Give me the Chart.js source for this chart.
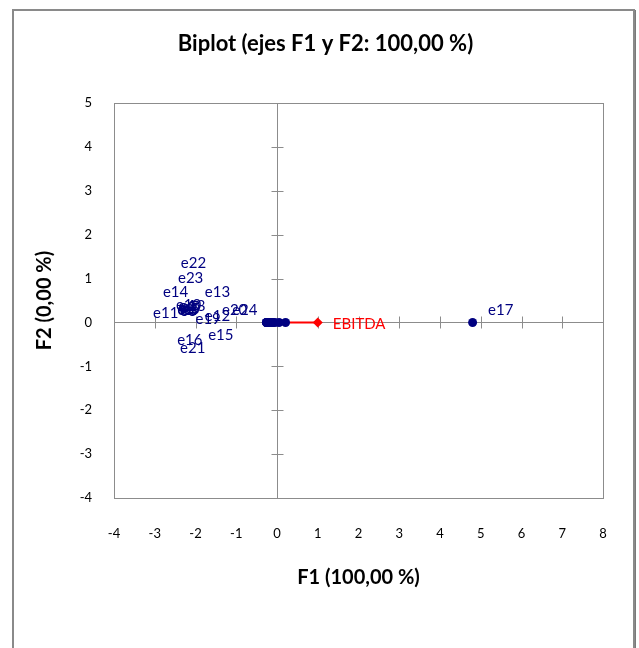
<!DOCTYPE html>
<html><head><meta charset="utf-8">
<script src="https://cdn.jsdelivr.net/npm/chart.js@4/dist/chart.umd.min.js"></script>
<style>html,body{margin:0;padding:0;background:#fff;overflow:hidden}</style>
</head><body>
<canvas id="c" width="639" height="648"></canvas>
<script>
// ---- data ----
const observations = ['e1','e2','e3','e4','e5','e6','e7','e8','e9','e10','e11','e12','e13','e14','e15','e16','e17','e18','e19','e20','e21','e22','e23','e24'];
const f1Scores = [-0.22,-0.24,-0.20,-0.25,-0.18,-0.23,-0.21,-0.26,-0.19,-0.24,-0.26,-0.17,-0.15,-0.25,-0.12,-0.22,4.80,-0.24,-0.20,-0.10,-0.22,0.05,0.21,-0.05];
const f2Scores = [0,0,0,0,0,0,0,0,0,0,0,0,0,0,0,0,0,0,0,0,0,0,0,0];
const obsLabelF1 = [-2.45,-2.40,-2.35,-2.42,-2.30,-2.38,-2.33,-2.44,-2.28,-2.48,-3.04,-1.77,-1.77,-2.80,-1.69,-2.45,5.18,-2.38,-2.00,-1.35,-2.38,-2.36,-2.43,-1.10];
const obsLabelF2 = [0.30,0.33,0.28,0.36,0.31,0.26,0.35,0.27,0.28,0.40,0.22,0.15,0.69,0.69,-0.28,-0.40,0.28,0.38,0.08,0.28,-0.58,1.36,1.01,0.28];
const variableNames = ['EBITDA'];
const variableF1 = [1.0];
const variableF2 = [0.0];
const varLabelF1 = [1.37];
const varLabelF2 = [-0.05];
const xTicks = [-4,-3,-2,-1,0,1,2,3,4,5,6,7,8];
const yTicks = [-4,-3,-2,-1,0,1,2,3,4,5];

const FONT = 'Lato, "Open Sans", sans-serif';
const NAVY = '#000080';
const GRAYLINE = '#8c8c8c';

const decor = {
  id: 'decor',
  beforeDraw(chart) {
    const ctx = chart.ctx;
    ctx.save();
    ctx.fillStyle = '#fff';
    ctx.fillRect(0, 0, chart.width, chart.height);
    ctx.strokeStyle = '#8a8a8a';
    ctx.lineWidth = 2;
    ctx.strokeRect(13, 10, 621, 660);
    ctx.strokeStyle = '#7a7a7a';
    ctx.lineWidth = 1;
    ctx.beginPath(); ctx.moveTo(635.5, 10); ctx.lineTo(635.5, 648); ctx.stroke();
    ctx.restore();
  },
  beforeDatasetsDraw(chart) {
    const {ctx, chartArea: a, scales: {x, y}} = chart;
    ctx.save();
    ctx.strokeStyle = GRAYLINE;
    ctx.lineWidth = 1;
    ctx.strokeRect(Math.round(a.left) + 0.5, Math.round(a.top) + 0.5, Math.round(a.right - a.left), Math.round(a.bottom - a.top));
    const x0 = Math.round(x.getPixelForValue(0)) + 0.5;
    const y0 = Math.round(y.getPixelForValue(0)) + 0.5;
    ctx.beginPath();
    ctx.moveTo(x0, a.top); ctx.lineTo(x0, a.bottom);
    ctx.moveTo(a.left, y0); ctx.lineTo(a.right, y0);
    xTicks.forEach(v => {
      if (v === 0 || v === xTicks[0] || v === xTicks[xTicks.length-1]) return;
      const px = Math.round(x.getPixelForValue(v)) + 0.5;
      ctx.moveTo(px, y0 - 6); ctx.lineTo(px, y0 + 6);
    });
    yTicks.forEach(v => {
      if (v === 0 || v === yTicks[0] || v === yTicks[yTicks.length-1]) return;
      const py = Math.round(y.getPixelForValue(v)) + 0.5;
      ctx.moveTo(x0 - 6, py); ctx.lineTo(x0 + 6, py);
    });
    ctx.stroke();
    ctx.restore();
  },
  afterDatasetsDraw(chart) {
    const {ctx, scales: {x, y}} = chart;
    ctx.save();
    ctx.font = '15px ' + FONT;
    ctx.textBaseline = 'middle';
    ctx.textAlign = 'left';
    ctx.fillStyle = NAVY;
    observations.forEach((name, i) => {
      ctx.fillText(name, x.getPixelForValue(obsLabelF1[i]), y.getPixelForValue(obsLabelF2[i]));
    });
    ctx.fillStyle = '#ff0000';
    variableNames.forEach((name, i) => {
      ctx.fillText(name, x.getPixelForValue(varLabelF1[i]), y.getPixelForValue(varLabelF2[i]));
    });
    ctx.restore();
  }
};

new Chart(document.getElementById('c'), {
  type: 'scatter',
  data: {
    datasets: [
      {
        label: 'Observaciones',
        data: observations.map((n, i) => ({x: f1Scores[i], y: f2Scores[i]})),
        backgroundColor: NAVY,
        borderColor: NAVY,
        pointRadius: 4.5,
        borderWidth: 0,
        order: 0
      },
      {
        label: 'Variables',
        type: 'line',
        data: [{x: 0, y: 0}].concat(variableNames.map((n, i) => ({x: variableF1[i], y: variableF2[i]}))),
        borderColor: '#ff0000',
        backgroundColor: '#ff0000',
        borderWidth: 2,
        pointStyle: 'rectRot',
        pointRadius: [0, 5],
        pointBorderWidth: 0,
        showLine: true,
        fill: false,
        order: 1
      }
    ]
  },
  options: {
    responsive: false,
    animation: false,
    devicePixelRatio: 1,
    layout: {padding: {left: 12, top: 0, right: 0, bottom: 0}},
    plugins: {
      legend: {display: false},
      tooltip: {enabled: false},
      title: {
        display: true,
        text: 'Biplot (ejes F1 y F2: 100,00 %)',
        color: '#000',
        font: {family: FONT, size: 22, weight: 'bold'},
        padding: {top: 31, bottom: 45.6}
      }
    },
    scales: {
      x: {
        type: 'linear',
        min: -4, max: 8,
        afterFit(s) { s.height = 150; },
        grid: {display: false, drawTicks: false},
        border: {display: false},
        ticks: {stepSize: 1, color: '#000', padding: 28, font: {family: FONT, size: 13}, maxRotation: 0, autoSkip: false},
        title: {display: true, text: 'F1 (100,00 %)', color: '#000', font: {family: FONT, size: 20, weight: 'bold'}, padding: {top: 0, bottom: 58}}
      },
      y: {
        type: 'linear',
        min: -4, max: 5,
        afterFit(s) { s.width = 102; },
        grid: {display: false, drawTicks: false},
        border: {display: false},
        ticks: {stepSize: 1, color: '#000', padding: 22, font: {family: FONT, size: 13}, autoSkip: false},
        title: {display: true, text: 'F2 (0,00 %)', color: '#000', font: {family: FONT, size: 20, weight: 'bold'}, padding: {top: 21, bottom: 0}}
      },
      yRight: {
        type: 'linear',
        position: 'right',
        min: -4, max: 5,
        afterFit(s) { s.width = 36; },
        grid: {display: false, drawTicks: false},
        border: {display: false},
        ticks: {display: false}
      }
    }
  },
  plugins: [decor]
});
</script>
</body></html>
